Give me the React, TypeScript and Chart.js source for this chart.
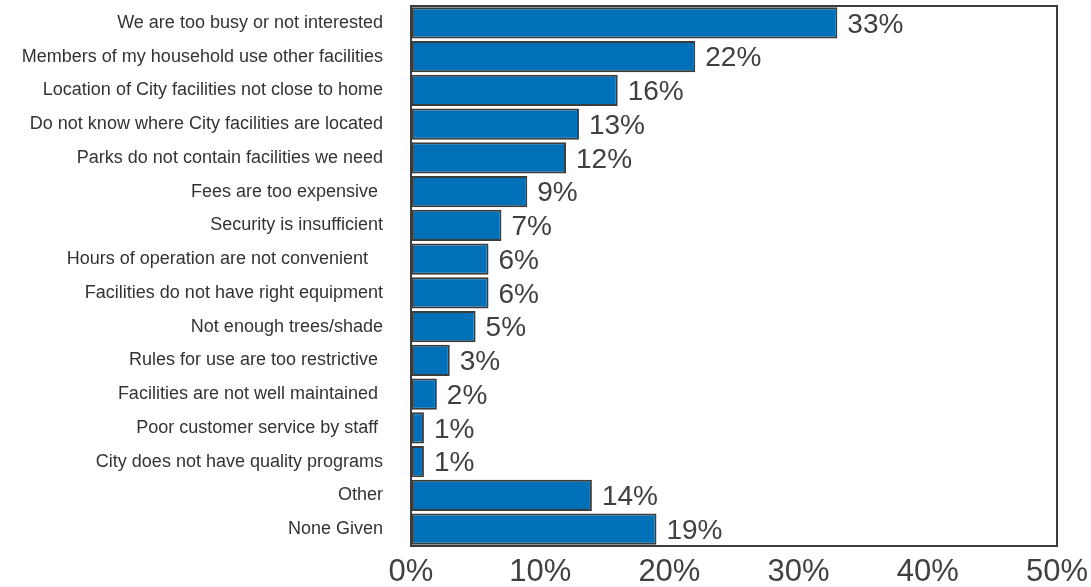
import React, { useEffect, useRef } from "react";
import { Chart, registerables } from "chart.js";

Chart.register(...registerables);

const categories: string[] = [
  "We are too busy or not interested",
  "Members of my household use other facilities",
  "Location of City facilities not close to home",
  "Do not know where City facilities are located",
  "Parks do not contain facilities we need",
  "Fees are too expensive ",
  "Security is insufficient",
  "Hours of operation are not convenient   ",
  "Facilities do not have right equipment",
  "Not enough trees/shade",
  "Rules for use are too restrictive ",
  "Facilities are not well maintained ",
  "Poor customer service by staff ",
  "City does not have quality programs",
  "Other",
  "None Given",
];

const values: number[] = [33, 22, 16, 13, 12, 9, 7, 6, 6, 5, 3, 2, 1, 1, 14, 19];

const xTicks: number[] = [0, 10, 20, 30, 40, 50];

const FONT = "'Liberation Sans', Arial, sans-serif";

const frame = {
  id: "frame",
  afterDatasetsDraw(chart: any) {
    const { ctx, chartArea } = chart;
    ctx.save();
    ctx.strokeStyle = "#3c3c3c";
    ctx.lineWidth = 2;
    ctx.strokeRect(chartArea.left, chartArea.top, chartArea.right - chartArea.left, chartArea.bottom - chartArea.top);
    ctx.restore();
  },
};

const dataLabels = {
  id: "dataLabels",
  afterDatasetsDraw(chart: any) {
    const { ctx } = chart;
    const meta = chart.getDatasetMeta(0);
    ctx.save();
    ctx.font = "28px " + FONT;
    ctx.fillStyle = "#404040";
    ctx.textAlign = "left";
    ctx.textBaseline = "middle";
    meta.data.forEach((bar: any, i: number) => {
      ctx.fillText(values[i] + "%", bar.x + 10, bar.y + 2);
    });
    ctx.restore();
  },
};

export default function App() {
  const ref = useRef<HTMLCanvasElement | null>(null);
  useEffect(() => {
    if (!ref.current) return;
    const chart = new Chart(ref.current, {
      type: "bar",
      data: {
        labels: categories,
        datasets: [
          {
            data: values,
            backgroundColor: "#0070b8",
            borderColor: "#3c3c3c",
            borderWidth: 2,
            borderSkipped: false,
            barPercentage: 0.92,
            categoryPercentage: 1,
          },
        ],
      },
      options: {
        indexAxis: "y",
        animation: false,
        responsive: false,
        maintainAspectRatio: false,
        layout: { padding: { top: 6, right: 34, left: 0, bottom: 0 } },
        plugins: { legend: { display: false }, tooltip: { enabled: false } },
        scales: {
          x: {
            min: 0,
            max: 50,
            afterBuildTicks: (scale: any) => {
              scale.ticks = xTicks.map((v) => ({ value: v }));
            },
            afterFit: (scale: any) => {
              scale.height = 41;
              scale.paddingLeft = 0;
              scale.paddingRight = 0;
            },
            grid: { display: false, drawTicks: false },
            border: { display: false },
            ticks: {
              padding: 8,
              color: "#404040",
              font: { size: 31, family: FONT },
              maxRotation: 0,
              callback: (v: any) => v + "%",
            },
          },
          y: {
            afterFit: (scale: any) => {
              scale.width = 411;
              scale.paddingTop = 0;
              scale.paddingBottom = 0;
            },
            grid: { display: false, drawTicks: false },
            border: { display: false },
            ticks: {
              padding: 28,
              color: "#333333",
              autoSkip: false,
              font: { size: 18, family: FONT },
            },
          },
        },
      },
      plugins: [frame, dataLabels],
    });
    return () => chart.destroy();
  }, []);
  return (
    <div style={{ position: "fixed", left: 0, top: 0, width: 1091, height: 587, background: "#fff" }}>
      <canvas ref={ref} width={1091} height={587} style={{ display: "block" }} />
    </div>
  );
}
